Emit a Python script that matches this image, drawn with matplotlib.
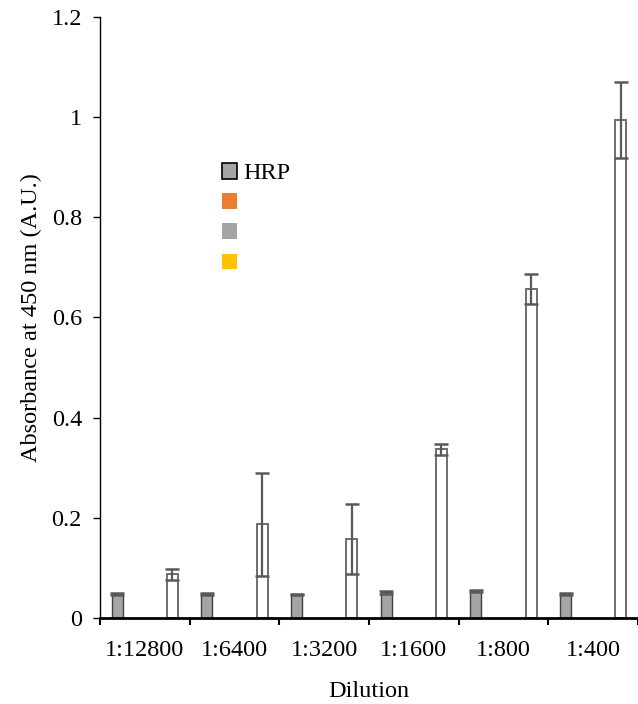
import matplotlib
matplotlib.use('Agg')
import matplotlib.pyplot as plt
import numpy as np
from matplotlib.patches import Patch
from matplotlib.ticker import FuncFormatter

plt.rcParams['font.family'] = ['Liberation Serif', 'DejaVu Serif']

dilutions = ['1:12800', '1:6400', '1:3200', '1:1600', '1:800', '1:400']
hrp = [0.048, 0.048, 0.047, 0.051, 0.053, 0.048]
hrp_err = [0.002, 0.002, 0.001, 0.003, 0.002, 0.002]
sample = [0.087, 0.187, 0.158, 0.337, 0.656, 0.994]
sample_err = [0.011, 0.103, 0.070, 0.011, 0.030, 0.076]
legend_labels = ['HRP', ' ', ' ', ' ']
legend_colors = ['#A5A5A5', '#ED7D31', '#A5A5A5', '#FFC000']

W, H = 638, 704
fs = 17.5
fig = plt.figure(figsize=(W / 100, H / 100), dpi=100)
ax = fig.add_axes([100 / W, 1 - 618 / H, 1 - 100 / W, (618 - 17) / H])

# six series per category in the original workbook, only first and last carry data
n_series = 6
width = 0.123
gap = (1 - n_series * width) / 2
x = np.arange(len(dilutions))
x_hrp = x - 0.5 + gap + width / 2
x_smp = x + 0.5 - gap - width / 2

ax.bar(x_hrp, hrp, width, color='#A5A5A5', edgecolor='#404040', linewidth=1.0, zorder=2)
ax.bar(x_smp, sample, width, color='white', edgecolor='#6E6E6E', linewidth=1.4, zorder=2)
ax.errorbar(x_hrp, hrp, yerr=hrp_err, fmt='none', ecolor='#595959', elinewidth=1.2,
            capsize=4.7, capthick=1.8, zorder=3)
ax.errorbar(x_smp, sample, yerr=sample_err, fmt='none', ecolor='#595959', elinewidth=1.6,
            capsize=4.7, capthick=1.8, zorder=3)

ax.set_ylim(0, 1.2)
ax.set_xlim(-0.5, -0.5 + (W - 100) / 91)
ax.set_yticks(np.arange(0, 1.21, 0.2))
ax.yaxis.set_major_formatter(FuncFormatter(lambda v, p: f'{v:g}'))
ax.set_xticks(x)
ax.set_xticklabels(dilutions)
ax.set_xticks(np.arange(len(dilutions) + 1) - 0.5, minor=True)
ax.tick_params(axis='x', which='major', length=0, pad=16, labelsize=fs)
ax.tick_params(axis='x', which='minor', length=5, width=1.5, direction='out')
ax.tick_params(axis='y', length=5, width=1.0, pad=8, labelsize=fs)

for s in ['top', 'right']:
    ax.spines[s].set_visible(False)
ax.spines['left'].set_linewidth(1.0)
ax.spines['bottom'].set_linewidth(2.0)

ax.set_ylabel('Absorbance at 450 nm (A.U.)', fontsize=fs, labelpad=6.5)
ax.set_xlabel('Dilution', fontsize=fs, labelpad=14)

handles = [Patch(facecolor=legend_colors[0], edgecolor='black', linewidth=1.2)]
handles += [Patch(facecolor=c, edgecolor='none') for c in legend_colors[1:]]
fig.legend(handles, legend_labels, loc='upper left', bbox_to_anchor=(222 / W, 1 - 163 / H),
           frameon=False, fontsize=fs, handlelength=0.62, handleheight=0.62,
           handletextpad=0.25, labelspacing=0.36, borderpad=0, borderaxespad=0)

fig.savefig('out.png', dpi=100)
